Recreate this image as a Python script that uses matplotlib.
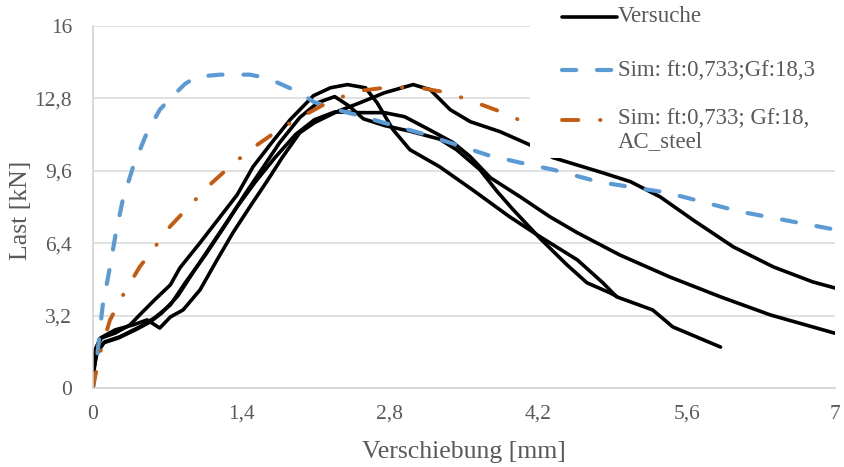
import matplotlib
matplotlib.use("Agg")
import matplotlib.pyplot as plt
from matplotlib.lines import Line2D
from matplotlib.patches import Rectangle

# Versuche (Verschiebung [mm], Last [kN])
test1_x = [0, 0.02, 0.07, 0.21, 0.38, 0.51, 0.63, 0.73, 0.85, 1.01, 1.17, 1.32, 1.48, 1.65, 1.79,
           1.95, 2.09, 2.30, 2.52, 2.75, 3.02, 3.18, 3.37, 3.56, 3.84, 4.12, 4.34, 4.81, 5.07,
           5.35, 5.66, 6.04, 6.42, 6.79, 7.0]
test1_y = [0.58, 1.68, 2.21, 2.57, 2.79, 3.01, 2.65, 3.14, 3.45, 4.34, 5.66, 6.86, 8.01, 9.20, 10.22,
           11.28, 11.73, 12.21, 12.61, 13.05, 13.41, 13.19, 12.30, 11.77, 11.33, 10.75, 10.18, 9.51, 9.12,
           8.45, 7.43, 6.24, 5.35, 4.69, 4.42]

test2_x = [0, 0.03, 0.08, 0.21, 0.35, 0.44, 0.58, 0.73, 0.82, 1.01, 1.20, 1.36, 1.51, 1.67, 1.86,
           2.08, 2.24, 2.40, 2.57, 2.68, 2.83, 2.99, 3.27, 3.58, 3.93, 4.22, 4.57, 4.81, 4.94,
           5.28, 5.47, 5.92]
test2_y = [0.88, 1.77, 2.21, 2.43, 2.79, 3.23, 3.89, 4.56, 5.31, 6.42, 7.57, 8.54, 9.78, 10.75, 11.86,
           12.92, 13.27, 13.41, 13.27, 12.61, 11.42, 10.53, 9.78, 8.76, 7.57, 6.68, 5.66, 4.65, 4.03,
           3.45, 2.70, 1.81]

test3_x = [0, 0.04, 0.11, 0.25, 0.44, 0.58, 0.73, 0.87, 1.06, 1.25, 1.43, 1.59, 1.76, 1.95, 2.12,
           2.28, 2.42, 2.55, 2.75, 2.99, 3.27, 3.43, 3.65, 3.81, 3.96, 4.22, 4.47, 4.66, 4.88, 4.94]
test3_y = [0.71, 1.59, 2.04, 2.26, 2.70, 3.10, 3.67, 4.65, 5.88, 7.21, 8.54, 9.65, 10.84, 11.95, 12.61,
           12.88, 12.45, 11.90, 11.60, 11.35, 11.00, 10.53, 9.65, 8.70, 7.90, 6.60, 5.45, 4.65, 4.20, 4.05]

test4_x = [0, 0.03, 0.10, 0.24, 0.40, 0.54, 0.65, 0.80, 0.96, 1.15, 1.34, 1.53, 1.72, 1.91, 2.09,
           2.28, 2.52, 2.75, 2.94, 3.18, 3.40, 3.56, 3.75, 4.03, 4.31, 4.57, 4.97, 5.44, 5.92,
           6.39, 7.0]
test4_y = [0.44, 1.46, 2.00, 2.21, 2.57, 2.92, 3.32, 4.07, 5.22, 6.55, 7.88, 9.10, 10.20, 11.20, 11.86,
           12.20, 12.17, 12.17, 11.99, 11.40, 10.84, 10.22, 9.29, 8.45, 7.57, 6.86, 5.88, 4.91, 4.03,
           3.23, 2.42]

# Sim: ft:0,733;Gf:18,3
sim1_x = [0, 0.03, 0.06, 0.09, 0.16, 0.21, 0.28, 0.38, 0.51, 0.63, 0.75, 0.87, 0.98, 1.20, 1.48,
          1.62, 1.74, 1.86, 1.98, 2.08, 2.30, 2.58, 2.71, 3.08, 3.37, 3.72, 4.03, 4.34, 4.78,
          5.42, 6.10, 7.0]
sim1_y = [0, 1.0, 2.3, 3.6, 5.35, 6.7, 8.3, 9.8, 11.3, 12.3, 12.9, 13.45, 13.76, 13.85, 13.85,
          13.72, 13.5, 13.25, 12.96, 12.65, 12.3, 11.95, 11.77, 11.28, 10.84, 10.3, 9.96, 9.65, 9.1,
          8.63, 7.8, 7.0]

# Sim: ft:0,733; Gf:18, AC_steel
sim2_x = [0, 0.02, 0.07, 0.16, 0.27, 0.44, 0.58, 0.70, 0.93, 1.12, 1.33, 1.55, 1.78, 2.05, 2.26,
          2.54, 2.80, 3.08, 3.35, 3.62, 3.87, 4.09, 4.20]
sim2_y = [0, 0.5, 1.6, 3.0, 4.0, 5.35, 6.2, 7.0, 8.15, 9.06, 9.95, 10.75, 11.5, 12.2, 12.74,
          13.15, 13.3, 13.27, 13.05, 12.6, 12.17, 11.7, 11.45]

x_ticks = [0, 1.4, 2.8, 4.2, 5.6, 7]
x_tick_labels = ["0", "1,4", "2,8", "4,2", "5,6", "7"]
y_ticks = [0, 3.2, 6.4, 9.6, 12.8, 16]
y_tick_labels = ["0", "3,2", "6,4", "9,6", "12,8", "16"]

labels = ["Versuche", "Sim: ft:0,733;Gf:18,3", "Sim: ft:0,733; Gf:18,\nAC_steel"]

TEXT_COLOR = "#595959"
GRID_COLOR = "#D9D9D9"

black_kw = dict(color="black", lw=2.6, solid_joinstyle="round", solid_capstyle="round")
blue_kw = dict(color="#5B9BD5", lw=3.0, linestyle=(0, (3.4, 5.0)), dash_capstyle="round")
brown_kw = dict(color="#C55A11", lw=2.8, linestyle=(0, (4.2, 5.6, 0.1, 5.6)), dash_capstyle="round")

plt.rcParams["font.family"] = ["Liberation Serif", "DejaVu Serif"]

W, H = 844, 467


def fx(px):
    return px / W


def fy(py):
    return 1 - py / H


def draw_legend(fig):
    # Excel-Legende liegt oben rechts und verdeckt den Plot
    fig.add_artist(Rectangle((fx(530), fy(158)), fx(W - 530), 158 / H,
                             transform=fig.transFigure, facecolor="white",
                             edgecolor="none", zorder=3))
    rows = [(17, black_kw, 17, "center"), (70, blue_kw, 70, "center"), (120, brown_kw, 108, "top")]
    for (ly, kw, ty, va), lab in zip(rows, labels):
        fig.add_artist(Line2D([fx(562), fx(617)], [fy(ly), fy(ly)],
                              transform=fig.transFigure, zorder=4, **kw))
        fig.text(fx(618), fy(ty), lab, ha="left", va=va, fontsize=16.5,
                 color=TEXT_COLOR, linespacing=1.15, zorder=4)


fig = plt.figure(figsize=(W / 100, H / 100), dpi=100)
ax = fig.add_axes([fx(93), fy(388), (835 - 93) / W, (388 - 26) / H])

for tx, ty in [(test1_x, test1_y), (test2_x, test2_y), (test3_x, test3_y), (test4_x, test4_y)]:
    ax.plot(tx, ty, **black_kw)
ax.plot(sim1_x, sim1_y, **blue_kw)
ax.plot(sim2_x, sim2_y, **brown_kw)

ax.set_xlim(0, 7)
ax.set_ylim(0, 16)
ax.set_xticks(x_ticks, x_tick_labels)
ax.set_yticks(y_ticks, y_tick_labels)
ax.tick_params(axis="both", length=0, labelsize=15.5, labelcolor=TEXT_COLOR)
ax.tick_params(axis="y", pad=15)
ax.tick_params(axis="x", pad=12)
ax.grid(True, axis="y", color=GRID_COLOR, lw=1.1)
ax.set_axisbelow(True)
for side in ["top", "right"]:
    ax.spines[side].set_visible(False)
for side in ["left", "bottom"]:
    ax.spines[side].set_color("#D0D0D0")
    ax.spines[side].set_linewidth(1.1)

fig.text(fx(21), fy(210), "Last [kN]", rotation=90, ha="center", va="center",
         fontsize=18.5, color=TEXT_COLOR)
fig.text(fx(464), fy(452), "Verschiebung [mm]", ha="center", va="center",
         fontsize=18.5, color=TEXT_COLOR)

draw_legend(fig)

fig.savefig("out.png", dpi=100)
